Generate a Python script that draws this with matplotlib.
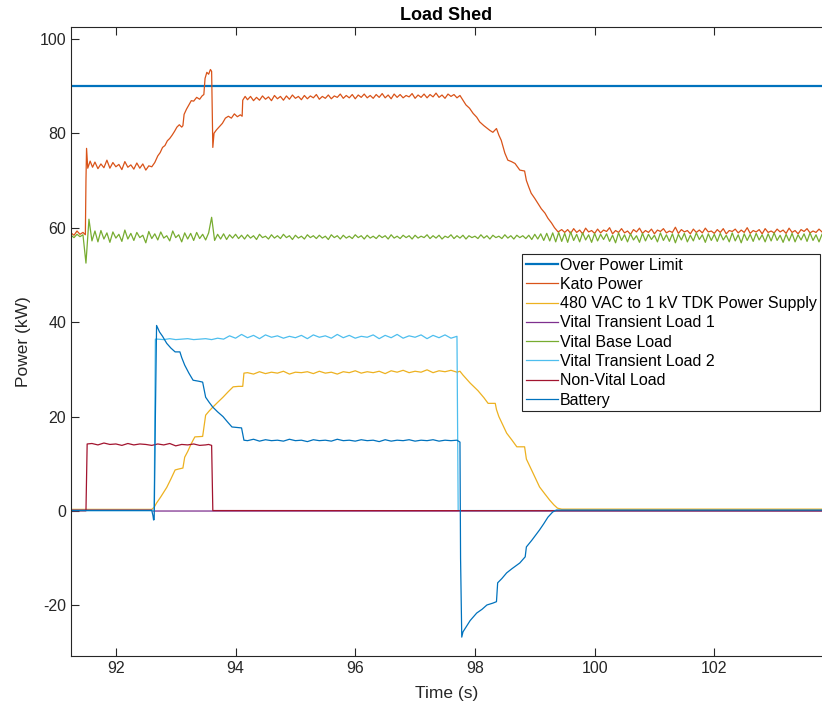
import numpy as np
import matplotlib
matplotlib.use("Agg")
import matplotlib.pyplot as plt

# ---------------- data ----------------
limit_t = [91.25, 103.8]
limit_v = [90.0, 90.0]

kato_t = [91.25, 91.30, 91.35, 91.40, 91.45, 91.49, 91.50, 91.51, 91.53, 91.57,
          91.61, 91.65, 91.70, 91.75, 91.80, 91.85, 91.90, 91.95, 92.00, 92.05,
          92.10, 92.15, 92.20, 92.25, 92.30, 92.35, 92.40, 92.45, 92.50, 92.55,
          92.60, 92.65, 92.70, 92.74, 92.78, 92.82, 92.86, 92.90, 92.94, 92.98,
          93.02, 93.06, 93.10, 93.12, 93.14, 93.18, 93.22, 93.26, 93.30, 93.35,
          93.40, 93.44, 93.47, 93.49, 93.52, 93.55, 93.58, 93.60, 93.61, 93.62,
          93.64, 93.68, 93.73, 93.78, 93.83, 93.88, 93.93, 93.98, 94.03, 94.08,
          94.11, 94.12, 94.16]
kato_v = [58.9, 58.4, 59.3, 58.6, 59.0, 58.5, 70.0, 76.8, 72.6, 74.1,
          72.8, 73.9, 72.5, 73.5, 72.7, 74.3, 72.6, 73.8, 72.9, 73.4,
          72.3, 74.0, 72.8, 73.3, 72.4, 73.7, 72.6, 73.5, 72.2, 73.1,
          72.9, 73.8, 75.2, 75.9, 77.0, 77.4, 78.4, 78.9, 79.6, 80.4,
          81.3, 81.8, 81.3, 81.6, 84.0, 85.1, 86.0, 86.9, 86.8, 87.6,
          87.2, 87.9, 88.2, 91.6, 92.9, 92.5, 93.5, 93.1, 85.0, 77.0,
          80.0, 80.7, 81.4, 82.1, 83.2, 83.6, 83.2, 84.1, 83.5, 83.9,
          83.6, 87.0, 87.8]
# plateau, sampled every 0.05 s from 94.20 to 97.75
kato_plateau_start, kato_plateau_step = 94.20, 0.05
kato_plateau_v = [87.1, 87.8, 86.9, 87.6, 87.0, 87.9, 87.2, 87.7, 86.9, 88.0,
                  87.3, 87.8, 87.0, 87.9, 87.2, 88.1, 87.4, 87.8, 87.1, 88.0,
                  87.3, 87.9, 87.5, 88.2, 87.2, 87.8, 87.4, 88.1, 87.3, 87.9,
                  87.6, 88.3, 87.4, 88.0, 87.5, 88.2, 87.3, 88.1, 87.6, 88.3,
                  87.5, 88.0, 87.4, 88.2, 87.6, 88.4, 87.5, 88.1, 87.3, 88.3,
                  87.6, 88.2, 87.5, 88.0, 87.7, 88.4, 87.4, 88.1, 87.6, 88.3,
                  87.5, 88.2, 87.7, 88.5, 87.6, 88.1, 87.4, 88.3, 87.8, 88.2,
                  87.5, 88.0]
kato_decl_t = [97.80, 97.85, 97.91, 97.97, 98.03, 98.08, 98.15, 98.25, 98.30, 98.36,
               98.40, 98.44, 98.50, 98.55, 98.61, 98.67, 98.75, 98.83, 98.86, 98.90,
               98.94, 99.00, 99.05, 99.11, 99.17, 99.22, 99.28, 99.33, 99.39, 99.45,
               99.50]
kato_decl_v = [87.0, 86.0, 85.3, 84.2, 83.4, 82.4, 81.6, 80.6, 80.2, 81.0,
               79.6, 78.5, 75.8, 74.3, 74.0, 73.6, 72.2, 72.0, 70.0, 68.6,
               67.3, 66.2, 65.2, 64.0, 63.1, 62.0, 61.0, 60.0, 59.1, 59.6,
               59.0]
# tail, sampled every 0.05 s from 99.55 to 103.80
kato_tail_start, kato_tail_step = 99.55, 0.05
kato_tail_v = [59.6, 58.8, 59.8, 59.0, 59.5, 58.7, 59.9, 59.1, 59.4, 58.8,
               59.7, 58.9, 59.5, 59.2, 60.0, 58.7, 59.4, 59.0, 59.8, 58.9,
               59.3, 58.6, 59.6, 59.1, 59.9, 58.8, 59.4, 59.0, 59.7, 58.7,
               59.5, 59.2, 59.8, 58.9, 59.3, 59.0, 60.1, 58.8, 59.6, 59.1,
               59.4, 58.7, 59.7, 59.0, 59.5, 58.9, 59.9, 59.1, 59.3, 58.8,
               59.6, 59.0, 59.8, 58.7, 59.4, 59.2, 59.7, 58.9, 59.5, 59.0,
               60.0, 58.8, 59.4, 59.1, 59.6, 58.7, 59.8, 59.0, 59.3, 58.9,
               59.7, 59.1, 59.5, 58.8, 59.9, 59.0, 59.4, 58.7, 59.6, 59.2,
               59.8, 58.9, 59.3, 59.0, 59.7, 59.1]

tdk_t = [91.25, 92.60, 92.64, 92.68, 92.75, 92.80, 92.85, 92.92, 92.99, 93.05,
         93.12, 93.15, 93.20, 93.25, 93.29, 93.32, 93.45, 93.50, 93.56, 93.62,
         93.70, 93.79, 93.88, 93.96, 94.05, 94.12, 94.14]
tdk_v = [0.35, 0.35, 0.8, 1.7, 3.0, 4.0, 5.0, 6.8, 8.7, 8.9,
         9.1, 11.4, 12.6, 14.0, 15.0, 15.7, 15.8, 20.3, 21.2, 22.0,
         23.0, 24.1, 25.3, 26.3, 26.4, 26.4, 29.2]
tdk_plateau_start, tdk_plateau_step = 94.2, 0.1
tdk_plateau_v = [29.3, 29.0, 29.5, 29.1, 29.4, 29.2, 29.6, 29.0, 29.4, 29.3,
                 29.5, 29.1, 29.6, 29.2, 29.4, 29.0, 29.5, 29.3, 29.7, 29.2,
                 29.5, 29.3, 29.6, 29.1, 29.7, 29.4, 29.8, 29.3, 29.6, 29.4,
                 29.9, 29.3, 29.7, 29.5, 29.8, 29.4]
tdk_decl_t = [97.75, 97.80, 97.92, 98.05, 98.15, 98.22, 98.34, 98.36, 98.40, 98.53,
              98.62, 98.70, 98.83, 98.86, 98.95, 99.08, 99.17, 99.25, 99.32, 99.38,
              99.45, 103.8]
tdk_decl_v = [29.6, 28.8, 27.1, 25.5, 24.0, 22.8, 22.8, 21.5, 20.0, 16.5,
              15.0, 13.6, 13.6, 11.0, 8.6, 5.1, 3.6, 2.3, 1.3, 0.6,
              0.4, 0.4]

vt1_t = [91.25, 92.60, 92.62, 103.8]
vt1_v = [0.2, 0.2, 0.0, 0.0]

# vital base load, sampled every 0.05 s from 91.25 to 103.80
base_start, base_step = 91.25, 0.05
base_v = [58.4, 57.9, 58.6, 58.1, 58.5, 52.5, 61.8, 57.2, 59.3, 57.0,
          59.4, 57.6, 58.9, 56.9, 59.1, 57.8, 58.6, 57.1, 59.5, 57.6,
          58.8, 57.3, 59.0, 57.9, 58.4, 56.8, 59.2, 57.7, 58.7, 57.4,
          59.1, 57.8, 58.3, 57.2, 59.3, 57.9, 58.5, 57.0, 58.9, 57.6,
          58.8, 57.3, 59.0, 57.7, 58.6, 57.4, 58.9, 62.2, 57.3, 58.6,
          57.6, 58.7, 57.5, 58.5, 57.8, 58.6, 57.7, 58.4, 57.6, 58.5,
          57.8, 58.3, 57.5, 58.6, 57.9, 58.2, 57.6, 58.5, 57.8, 58.3,
          57.7, 58.6, 57.9, 58.3, 57.5, 58.4, 57.8, 58.2, 57.6, 58.5,
          57.9, 58.3, 57.7, 58.4, 57.8, 58.2, 57.5, 58.5, 57.9, 58.3,
          57.6, 58.4, 57.8, 58.2, 57.7, 58.5, 57.9, 58.3, 57.6, 58.4,
          57.8, 58.2, 57.7, 58.4, 57.9, 58.3, 57.6, 58.5, 57.8, 58.2,
          57.7, 58.4, 57.9, 58.3, 57.6, 58.4, 57.8, 58.2, 57.9, 58.5,
          57.7, 58.3, 57.8, 58.4, 57.6, 58.2, 57.9, 58.5, 57.7, 58.3,
          57.8, 58.4, 57.6, 58.3, 57.9, 58.2, 57.7, 58.5, 57.8, 58.3,
          57.6, 58.4, 57.9, 58.2, 57.7, 58.5, 57.8, 58.3, 57.6, 58.4,
          57.9, 58.3, 57.7, 58.4, 57.5, 58.6, 57.6, 58.7, 57.3, 58.8,
          57.2, 58.9, 57.0, 59.0, 57.1, 58.8, 56.9, 59.1, 57.3, 58.6,
          57.0, 58.9, 57.4, 58.5, 56.9, 58.8, 57.2, 58.6, 57.5, 58.7,
          57.1, 58.4, 56.8, 58.9, 57.3, 58.5, 57.0, 58.7, 57.4, 58.3,
          56.9, 58.8, 57.2, 58.6, 57.5, 58.4, 57.0, 58.9, 57.3, 58.5,
          57.1, 58.7, 56.8, 58.6, 57.4, 58.8, 57.0, 58.4, 57.2, 58.9,
          57.5, 58.5, 56.9, 58.7, 57.3, 58.6, 57.1, 58.8, 57.4, 58.4,
          57.0, 58.9, 57.2, 58.5, 56.8, 58.7, 57.3, 58.6, 57.1, 58.8,
          57.4, 58.5, 57.0, 58.7, 57.2, 58.9, 57.3, 58.4, 56.9, 58.6,
          57.2, 58.8, 57.0, 58.5, 57.4, 58.7, 57.1, 58.9, 57.3, 58.5,
          57.0, 58.6]

vt2_t = [91.25, 92.64, 92.66]
vt2_v = [0.1, 0.1, 36.4]
vt2_plateau_start, vt2_plateau_step = 92.7, 0.1
vt2_plateau_v = [36.4, 36.3, 36.5, 36.3, 36.4, 36.5, 36.3, 36.4, 36.5, 36.3,
                 36.6, 36.4, 37.1, 36.6, 37.4, 36.7, 37.2, 36.5, 37.3, 36.8,
                 37.1, 36.6, 37.0, 36.7, 37.2, 36.5, 37.3, 36.8, 37.1, 36.6,
                 37.4, 36.7, 37.2, 36.6, 37.0, 36.8, 37.3, 36.5, 37.2, 36.7,
                 37.4, 36.6, 37.1, 36.8, 37.3, 36.5, 37.2, 36.7, 37.3, 36.6,
                 37.0]
vt2_end_t = [97.72, 103.8]
vt2_end_v = [0.1, 0.1]

nonvital_t = [91.25, 91.50, 91.52]
nonvital_v = [0.05, 0.05, 14.2]
nonvital_plateau_start, nonvital_plateau_step = 91.6, 0.1
nonvital_plateau_v = [14.3, 14.0, 14.4, 14.1, 14.2, 13.9, 14.3, 14.0, 14.2, 14.1,
                      13.9, 14.2, 14.0, 14.3, 13.8, 14.1, 14.0, 14.2, 13.9, 14.0]
nonvital_end_t = [93.55, 93.60, 93.62, 103.8]
nonvital_end_v = [14.1, 13.9, 0.1, 0.05]

batt_t = [91.25, 92.60, 92.62, 92.63, 92.64, 92.66, 92.68, 92.73, 92.78, 92.85,
          92.92, 92.99, 93.07, 93.10, 93.15, 93.22, 93.29, 93.38, 93.45, 93.50,
          93.56, 93.62, 93.70, 93.79, 93.87, 93.94, 94.02, 94.10, 94.14]
batt_v = [0.1, 0.1, -1.0, -1.9, -1.8, 20.0, 39.3, 37.9, 37.0, 35.5,
          34.5, 33.7, 33.7, 32.5, 30.9, 29.2, 27.7, 27.5, 27.3, 24.1,
          23.0, 22.0, 21.0, 20.0, 18.8, 17.8, 17.7, 17.6, 15.0]
batt_plateau_start, batt_plateau_step = 94.2, 0.1
batt_plateau_v = [14.9, 15.2, 14.8, 15.1, 14.9, 15.0, 14.8, 15.2, 14.9, 15.0,
                  14.7, 15.1, 14.9, 15.0, 14.8, 15.2, 14.9, 15.0, 14.8, 15.1,
                  14.9, 15.0, 14.7, 15.1, 14.8, 15.0, 14.9, 15.1, 14.8, 15.0,
                  14.9, 15.1, 14.8, 15.0, 14.9, 15.0]
batt_end_t = [97.75, 97.76, 97.78, 97.80, 97.85, 97.92, 98.03, 98.12, 98.20, 98.30,
              98.36, 98.38, 98.45, 98.53, 98.62, 98.75, 98.84, 98.86, 98.95, 99.08,
              99.15, 99.22, 99.30, 99.36, 103.8]
batt_end_v = [14.6, -10.0, -26.7, -25.6, -24.6, -23.2, -21.6, -20.8, -19.9, -19.5,
              -19.2, -15.2, -14.3, -13.1, -12.2, -11.0, -9.7, -7.6, -6.2, -4.0,
              -2.7, -1.3, -0.2, 0.2, 0.2]

labels = ["Over Power Limit", "Kato Power", "480 VAC to 1 kV TDK Power Supply",
          "Vital Transient Load 1", "Vital Base Load", "Vital Transient Load 2",
          "Non-Vital Load", "Battery"]
colors = ["#0072BD", "#D95319", "#EDB120", "#7E2F8E", "#77AC30", "#4DBEEE",
          "#A2142F", "#0072BD"]


def grid_times(start, step, values):
    return list(np.round(start + step * np.arange(len(values)), 4))


kato_T = kato_t + grid_times(kato_plateau_start, kato_plateau_step, kato_plateau_v) + kato_decl_t \
    + grid_times(kato_tail_start, kato_tail_step, kato_tail_v)
kato_V = kato_v + kato_plateau_v + kato_decl_v + kato_tail_v
tdk_T = tdk_t + grid_times(tdk_plateau_start, tdk_plateau_step, tdk_plateau_v) + tdk_decl_t
tdk_V = tdk_v + tdk_plateau_v + tdk_decl_v
base_T = grid_times(base_start, base_step, base_v)
vt2_T = vt2_t + grid_times(vt2_plateau_start, vt2_plateau_step, vt2_plateau_v) + vt2_end_t
vt2_V = vt2_v + vt2_plateau_v + vt2_end_v
nv_T = nonvital_t + grid_times(nonvital_plateau_start, nonvital_plateau_step, nonvital_plateau_v) + nonvital_end_t
nv_V = nonvital_v + nonvital_plateau_v + nonvital_end_v
batt_T = batt_t + grid_times(batt_plateau_start, batt_plateau_step, batt_plateau_v) + batt_end_t
batt_V = batt_v + batt_plateau_v + batt_end_v

series = [(limit_t, limit_v), (kato_T, kato_V), (tdk_T, tdk_V), (vt1_t, vt1_v),
          (base_T, base_v), (vt2_T, vt2_V), (nv_T, nv_V), (batt_T, batt_V)]
widths = [1.6, 0.9, 0.9, 0.9, 0.9, 0.9, 0.9, 0.9]

# ---------------- plot ----------------
plt.rcParams['font.family'] = ['Liberation Sans', 'DejaVu Sans']
plt.rcParams['axes.unicode_minus'] = False
fig = plt.figure(figsize=(8.22, 7.06), dpi=100)
ax = fig.add_axes([71 / 822, 50 / 706, (822 - 71) / 822, (656 - 27) / 706])

for (t, v), lab, c, lw in zip(series, labels, colors, widths):
    ax.plot(t, v, color=c, lw=lw, label=lab)

ax.set_xlim(91.25, 103.8)
ax.set_ylim(-30.7, 102.5)
ax.set_xticks([92, 94, 96, 98, 100, 102])
ax.set_yticks([-20, 0, 20, 40, 60, 80, 100])

axc = "#262626"
for s in ['left', 'bottom', 'top']:
    ax.spines[s].set_color(axc)
    ax.spines[s].set_linewidth(0.8)
ax.spines['right'].set_visible(False)
ax.tick_params(direction='in', top=True, right=False, length=5.5, width=0.8,
               colors=axc, labelsize=11.5, labelcolor=axc)

ax.set_title("Load Shed", fontsize=13, fontweight='bold', color='black', pad=5)
ax.set_xlabel("Time (s)", fontsize=12.5, color=axc, labelpad=7)
ax.set_ylabel("Power (kW)", fontsize=12.5, color=axc, labelpad=6)

leg = ax.legend(loc='upper right', bbox_to_anchor=(820 / 822, 1 - 254 / 706),
                bbox_transform=fig.transFigure, borderaxespad=0, fontsize=11.5,
                frameon=True, fancybox=False, edgecolor=axc, framealpha=1,
                handlelength=2.0, handletextpad=0.12, labelspacing=0.27,
                borderpad=0.22)
leg.get_frame().set_linewidth(0.8)

fig.savefig("out.png", dpi=100)
